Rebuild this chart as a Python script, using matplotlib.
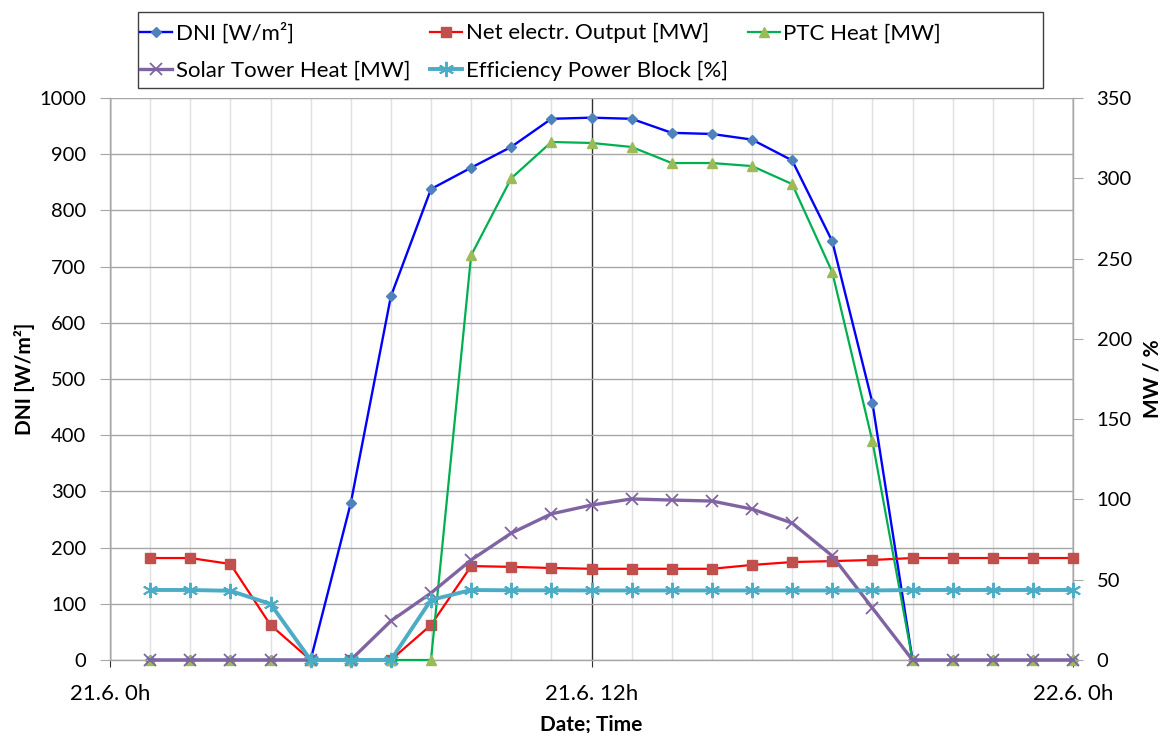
import matplotlib.pyplot as plt
from matplotlib.patches import Rectangle

plt.rcParams['font.family'] = ['Lato', 'DejaVu Sans']

# Stunden des Tages (21.6.), Werte jeweils zur vollen Stunde
hours = list(range(1, 25))

dni = [0, 0, 0, 0, 0, 279, 647, 838, 876, 913, 963, 965,
       963, 938, 936, 926, 889, 745, 458, 0, 0, 0, 0, 0]

net_output = [63.5, 63.5, 59.8, 21.8, 0, 0, 0, 21.8, 58.5, 58.0, 57.3, 56.8,
              56.8, 56.8, 56.8, 59.2, 61.0, 61.6, 62.3, 63.5, 63.5, 63.5, 63.5, 63.5]

ptc_heat = [0, 0, 0, 0, 0, 0, 0, 0, 252, 300, 322.6, 322,
            319.5, 309.5, 309.5, 307.6, 296.4, 241.6, 136.4, 0, 0, 0, 0, 0]

tower_heat = [0, 0, 0, 0, 0, 0, 24.3, 41.7, 62.3, 79.0, 91.0, 96.5,
              100.3, 99.6, 99.0, 94.0, 85.3, 64.8, 32.4, 0, 0, 0, 0, 0]

efficiency = [43.6, 43.6, 43.1, 34.9, 0, 0, 0, 37.4, 43.6, 43.4, 43.4, 43.3,
              43.3, 43.3, 43.3, 43.3, 43.3, 43.3, 43.3, 43.6, 43.6, 43.6, 43.6, 43.6]

x_ticks = [0, 12, 24]
x_labels = ['21.6. 0h', '21.6. 12h', '22.6. 0h']

W, H = 1170, 733
fig = plt.figure(figsize=(W / 100, H / 100), dpi=100)
ax = fig.add_axes([110 / W, 1 - 660 / H, (1073 - 110) / W, (660 - 98) / H])
ax2 = ax.twinx()

grid_c = '#a6a6a6'
fs = 14.5

# Gitter
ax.set_xlim(0, 24)
ax.set_ylim(0, 1000)
ax.set_yticks(range(0, 1001, 100))
ax.set_xticks(x_ticks)
ax.set_xticklabels(x_labels)
ax.set_xticks(hours, minor=True)
ax.yaxis.grid(True, color=grid_c, lw=1)
ax.xaxis.grid(True, which='minor', color='#e0e0e0', lw=1)
ax.xaxis.grid(True, which='major', color='#303030', lw=1)
ax.set_axisbelow(True)

ax2.set_ylim(0, 350)
ax2.set_yticks(range(0, 351, 50))

for a in (ax, ax2):
    a.spines['top'].set_visible(False)
    for s in ('left', 'right', 'bottom'):
        a.spines[s].set_color(grid_c)
        a.spines[s].set_linewidth(1)
ax.spines['right'].set_visible(False)
ax2.spines['left'].set_visible(False)
ax2.spines['bottom'].set_visible(False)

ax.tick_params(axis='y', length=7, color=grid_c, pad=10, labelsize=fs)
ax.tick_params(axis='x', which='major', length=5, color='#303030', pad=12, labelsize=16)
ax.tick_params(axis='x', which='minor', length=0)
ax2.tick_params(axis='y', length=7, color=grid_c, pad=10, labelsize=fs)

ax.set_xlabel('Date; Time', fontsize=15, fontweight='bold', labelpad=8)
ax.set_ylabel('DNI [W/m²]', fontsize=15, fontweight='bold', labelpad=3)
ax2.set_ylabel('MW / %', fontsize=15, fontweight='bold', labelpad=8)

# Datenreihen
l_dni, = ax.plot(hours, dni, color='#0000ff', lw=1.7, marker='D', ms=5,
                 mfc='#4f81bd', mec='#4f81bd', label='DNI [W/m²]', clip_on=False)
l_net, = ax2.plot(hours, net_output, color='#ff0000', lw=1.6, marker='s', ms=7,
                  mfc='#c0504d', mec='#c0504d', label='Net electr. Output [MW]',
                  clip_on=False, zorder=3)
l_ptc, = ax2.plot(hours, ptc_heat, color='#00b050', lw=1.6, marker='^', ms=7.5,
                  mfc='#9bbb59', mec='#9bbb59', label='PTC Heat [MW]',
                  clip_on=False, zorder=4)
l_tow, = ax2.plot(hours, tower_heat, color='#8064a2', lw=2.4, marker='x', ms=9,
                  mew=1.3, mec='#8064a2', label='Solar Tower Heat [MW]',
                  clip_on=False, zorder=5)
l_eff, = ax2.plot(hours, efficiency, color='#4bacc6', lw=2.8, marker=(6, 2, 0),
                  ms=11, mew=1.4, mec='#4bacc6', label='Efficiency Power Block [%]',
                  clip_on=False, zorder=6)

# Legende oben, zeilenweise angeordnet
handles = [l_dni, l_tow, l_net, l_eff, l_ptc]
fig.legend(handles=handles, labels=[h.get_label() for h in handles],
           loc='upper left', bbox_to_anchor=(140 / W, 1 - 22 / H), ncol=3,
           frameon=False, fontsize=16, handlelength=1.45, handletextpad=0.15,
           columnspacing=0.9, labelspacing=0.78, borderpad=0, borderaxespad=0)
fig.patches.append(Rectangle((138 / W, 1 - 88 / H), (1043 - 138) / W, 76 / H,
                             transform=fig.transFigure, fill=False,
                             edgecolor='#404040', lw=1))

fig.savefig('out.png', dpi=100)
